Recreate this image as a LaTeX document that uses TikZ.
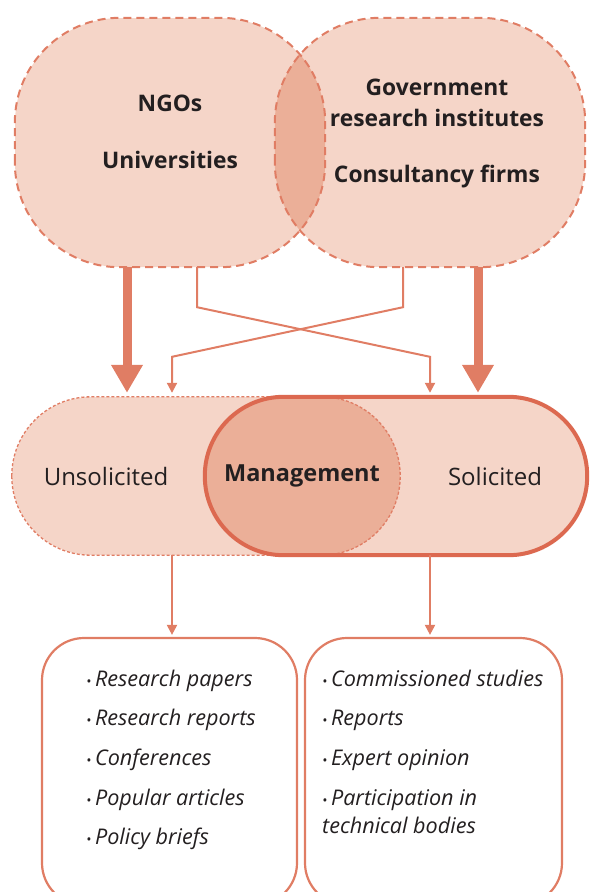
\documentclass[tikz,border=0pt]{standalone}
\usepackage{fontspec}
\setmainfont{Open Sans}
\usetikzlibrary{arrows.meta,positioning}
\definecolor{salmon}{HTML}{F5D5C8}
\definecolor{salmondark}{HTML}{EBAF98}
\definecolor{rust}{HTML}{E07D64}
\definecolor{rustdark}{HTML}{DC6950}
\definecolor{ink}{HTML}{231F20}
\tikzset{
  blob/.style={fill=salmon, rounded corners=105pt, minimum width=310pt, minimum height=249pt, inner sep=0pt},
  blobline/.style={draw=rust, line width=2pt, dash pattern=on 8pt off 5pt, rounded corners=105pt},
  pill/.style={fill=salmon, rounded corners=79pt, minimum height=158pt, inner sep=0pt},
  toptext/.style={font=\fontsize{22.8}{27}\selectfont\bfseries, text=ink},
  pilltext/.style={font=\fontsize{24}{28}\selectfont, text=ink},
  listbox/.style={draw=rust, line width=2.2pt, fill=white, rounded corners=42pt, minimum height=267pt, inner sep=0pt},
  entry/.style={font=\fontsize{21.6}{26}\selectfont\itshape, text=ink, anchor=base west, inner sep=0pt},
  fatarrow/.style={draw=rust, line width=9pt, -{Triangle[width=30pt,length=28pt]}},
  thinarrow/.style={draw=rust, line width=2pt, -{Triangle[width=10pt,length=10pt]}},
}
\newcommand{\dotitem}{{\fontsize{14}{14}\selectfont\textbullet}\,}
\begin{document}
\begin{tikzpicture}[x=1pt,y=-1pt]
  \clip (0,0) rectangle (590,892);
  % Define nodes
  \node[blob] (acad) at (170,142.5) {};
  \node[blob] (gov) at (430,142.5) {};
  \begin{scope}
    \clip[rounded corners=105pt] (acad.south west) rectangle (acad.north east);
    \fill[salmondark, rounded corners=105pt] (gov.south west) rectangle (gov.north east);
  \end{scope}
  \draw[blobline] (acad.south west) rectangle (acad.north east);
  \draw[blobline] (gov.south west) rectangle (gov.north east);
  \node[toptext] (ngo) at (170,103) {NGOs};
  \node[toptext] (uni) at (170,160) {Universities};
  \node[toptext] (govt) at (437,87) {Government};
  \node[toptext] (inst) at (437,118) {research institutes};
  \node[toptext] (cons) at (437,177) {Consultancy firms};

  \node[pill, minimum width=388pt] (unsol) at (206,476) {};
  \node[pill, minimum width=382pt] (sol) at (396,476) {};
  \begin{scope}
    \clip[rounded corners=79pt] (unsol.south west) rectangle (unsol.north east);
    \fill[salmondark, rounded corners=79pt] (sol.south west) rectangle (sol.north east);
  \end{scope}
  \draw[rust, line width=1.3pt, dash pattern=on 3pt off 2pt, rounded corners=79pt] (unsol.south west) rectangle (unsol.north east);
  \draw[rustdark, line width=4pt, rounded corners=79pt] (sol.south west) rectangle (sol.north east);
  \node[pilltext] (unsoltxt) at (106,476) {Unsolicited};
  \node[pilltext, font=\fontsize{23.5}{28}\selectfont\bfseries] (mgmt) at (302,476) {Management};
  \node[pilltext] (soltxt) at (495,476) {Solicited};

  \node[listbox, minimum width=255pt] (pubs) at (169.5,771.5) {};
  \node[listbox, minimum width=257pt] (comm) at (433.5,771.5) {};
  \foreach \txt [count=\i] in {Research papers, Research reports, Conferences, Popular articles, Policy briefs}
    \node[entry] (pub\i) at (86,{646.3+39.7*\i}) {\dotitem\txt};
  \foreach \txt [count=\i] in {Commissioned studies, Reports, Expert opinion, Participation in}
    \node[entry] (com\i) at (322,{646.3+39.7*\i}) {\dotitem\txt};
  \node[entry] (com5) at (322,833) {technical bodies};

  % Connect the nodes
  \draw[fatarrow] ([xshift=-43pt]acad.south) -- ([xshift=-79pt,yshift=4pt]unsol.north);
  \draw[fatarrow] ([xshift=48pt]gov.south) -- ([xshift=82pt,yshift=4pt]sol.north);
  \draw[thinarrow] ([xshift=27pt]acad.south) -- ++(0,40) -- ([xshift=34pt,yshift=40pt]sol.north) -- ([xshift=34pt,yshift=4pt]sol.north);
  \draw[thinarrow] ([xshift=-27pt]gov.south) -- ++(0,40) -- ([xshift=-34pt,yshift=40pt]unsol.north) -- ([xshift=-34pt,yshift=4pt]unsol.north);
  \draw[thinarrow] ([xshift=-34pt]unsol.south) -- ([xshift=-34pt,yshift=2pt]unsol.south |- pubs.north);
  \draw[thinarrow] ([xshift=34pt]sol.south) -- ([xshift=34pt,yshift=2pt]sol.south |- comm.north);
\end{tikzpicture}
\end{document}
